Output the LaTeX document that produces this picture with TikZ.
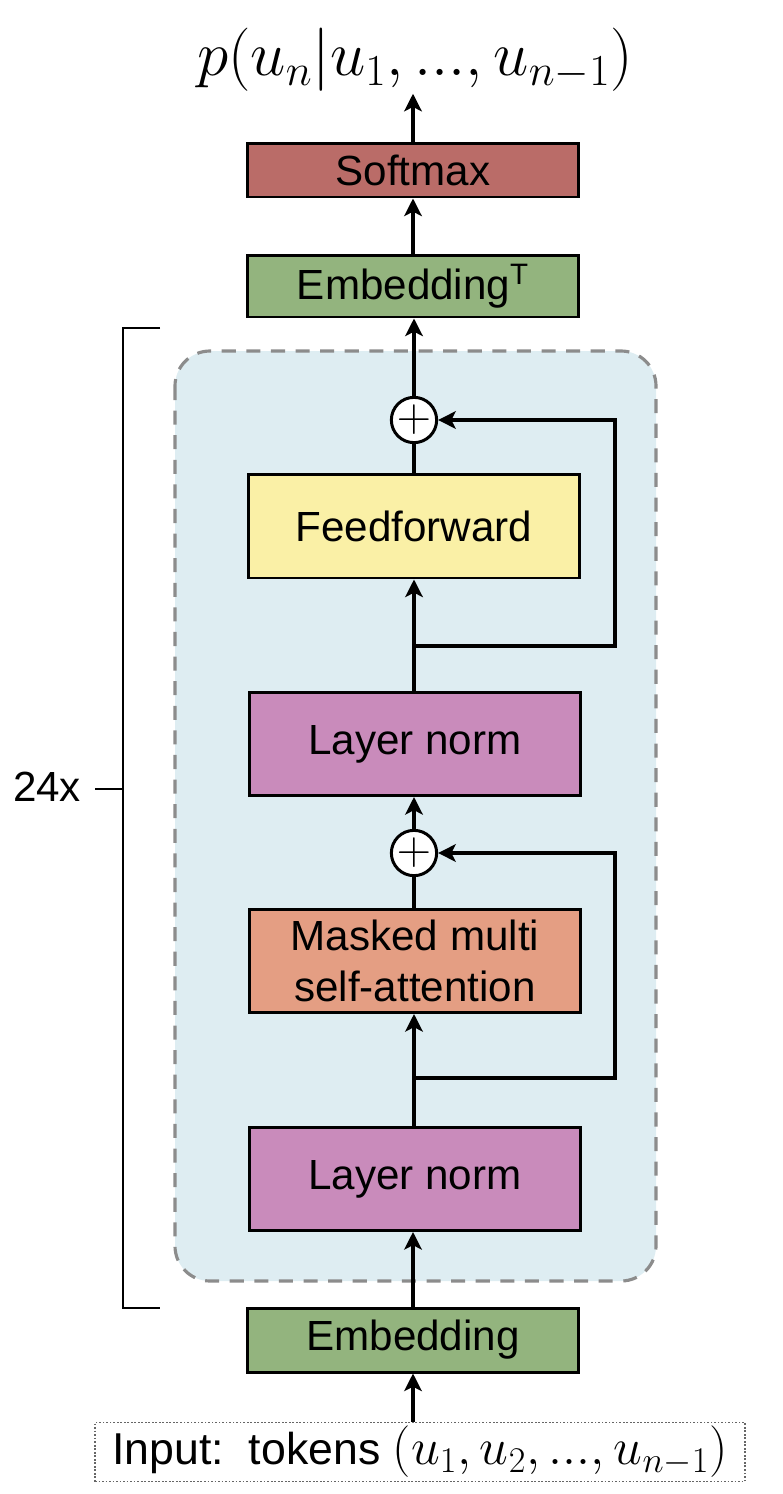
\RequirePackage{fix-cm}
\documentclass[tikz,border=0pt]{standalone}
\usepackage{fontspec}
\setmainfont{Liberation Sans}
\usepackage{tikz}
\definecolor{gptred}{RGB}{186,108,104}
\definecolor{gptgreen}{RGB}{147,180,126}
\definecolor{gptyellow}{RGB}{250,240,166}
\definecolor{gptpurple}{RGB}{201,139,187}
\definecolor{gptorange}{RGB}{228,158,131}
\definecolor{gptblue}{RGB}{222,237,242}
\usetikzlibrary{positioning}
\usetikzlibrary{calc}
\usetikzlibrary{arrows.meta}
\tikzset{gptbox/.style={
    draw=black,
    line width=1.7pt,
    minimum width=6.64cm,
    minimum height=#1,
    inner sep=0pt,
    align=center,
    font=\fontsize{24}{29}\selectfont
  },
  gptbox/.default=1.08cm,
  flow/.style={
    line width=2pt,
    -{Stealth[length=10pt,width=10pt,inset=2.5pt]}
  },
  plain/.style={
    line width=2pt
  },
  adder/.style={
    circle,
    draw=black,
    fill=white,
    line width=1.7pt,
    minimum size=0.8cm,
    inner sep=0pt
  }
}
\begin{document}
\begin{tikzpicture}[x=0.02cm,y=-0.02cm]
      \useasboundingbox (0,0) rectangle (782,1494);
      % repeated decoder block
      \draw[draw=black!45,fill=gptblue,line width=1.8pt,dash pattern=on 8pt off 6pt,rounded corners=0.7cm] (175,351) rectangle (656,1281);
      \draw[line width=1.4pt] (160,328) -- (123,328) -- (123,1308) -- (160,1308);
      \draw[line width=1.4pt] (123,789) -- (95,789);
      \node[font=\fontsize{24}{29}\selectfont] (reps) at (47,787) {24x};
      % boxes
      \node (prob) at (415,60) [inner sep=1pt] {\fontsize{36}{42}\selectfont$p(u_n|u_1,...,u_{n-1})$};
      \node[gptbox,fill=gptred] (softmax) at (413,170) {Softmax};
      \node[gptbox=1.24cm,fill=gptgreen] (embT) at (413,286) {Embedding\textsuperscript{T}};
      \node[adder] (plusA) at (414,420) {\fontsize{27}{27}\selectfont$+$};
      \node[gptbox=2.08cm,fill=gptyellow] (ff) at (414,526) {Feedforward};
      \node[gptbox=2.06cm,fill=gptpurple] (lnA) at (415,744) {Layer norm};
      \node[adder] (plusB) at (414,853) {\fontsize{27}{27}\selectfont$+$};
      \node[gptbox=2.06cm,fill=gptorange] (mmsa) at (415,961) {Masked multi\\self-attention};
      \node[gptbox=2.06cm,fill=gptpurple] (lnB) at (415,1179) {Layer norm};
      \node[gptbox=1.28cm,fill=gptgreen] (emb) at (413,1340) {Embedding};
      \node[draw=black!60,line width=1pt,dash pattern=on 1pt off 1pt,minimum width=13cm,minimum height=1.18cm,inner sep=0pt,font=\fontsize{25.4}{30}\selectfont] (input) at (420,1452) {Input:\ \ tokens {\fontsize{29.4}{34}\selectfont$(u_1,u_2,...,u_{n-1})$}};
      \coordinate (jA) at (414,646);
      \coordinate (jB) at (414,1078);
      \coordinate (rA) at (615,646);
      \coordinate (rB) at (615,1078);
      % connections
      \draw[flow] (input.north -| emb.south) -- (emb.south);
      \draw[flow] (emb.north) -- (emb.north |- lnB.south);
      \draw[flow] (lnB.north -| jB) -- (mmsa.south -| jB);
      \draw[plain] (mmsa.north -| plusB) -- (plusB.south);
      \draw[flow] (plusB.north) -- (lnA.south -| plusB);
      \draw[flow] (lnA.north -| jA) -- (ff.south -| jA);
      \draw[plain] (ff.north -| plusA) -- (plusA.south);
      \draw[flow] (plusA.north) -- (embT.south -| plusA);
      \draw[flow] (embT.north) -- (softmax.south);
      \draw[flow] (softmax.north) -- (prob.south -| softmax.north);
      % residual paths
      \draw[flow] (jA) -- (rA) |- (plusA.east);
      \draw[flow] (jB) -- (rB) |- (plusB.east);
      \end{tikzpicture}
\end{document}
